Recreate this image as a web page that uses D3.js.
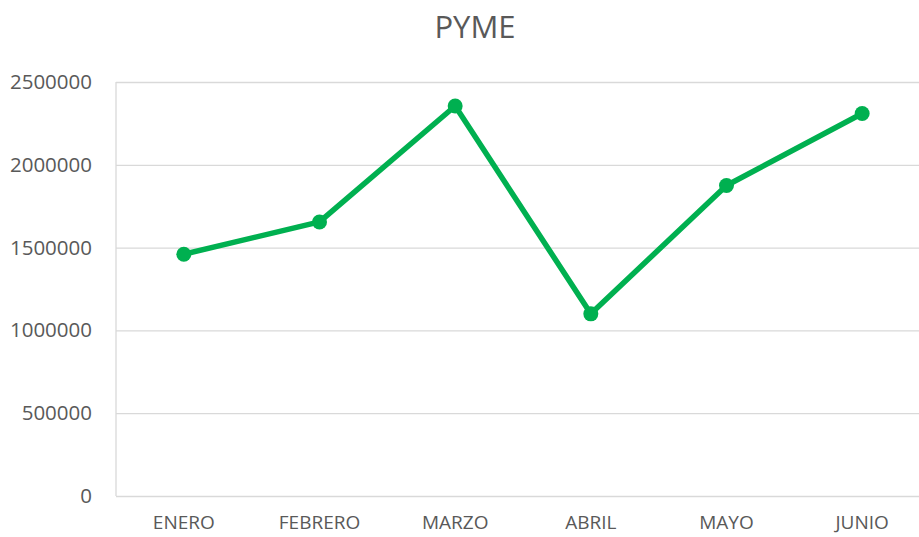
<!DOCTYPE html>
<html>
<head>
<meta charset="utf-8">
<script src="https://cdn.jsdelivr.net/npm/d3@7"></script>
<style>
  body { margin: 0; background: #fff; }
  svg { display: block; font-family: "Open Sans", sans-serif; }
</style>
</head>
<body>
<div id="chart"></div>
<script>
const title = "PYME";
const months = ["ENERO", "FEBRERO", "MARZO", "ABRIL", "MAYO", "JUNIO"];
const values = [1460000, 1655000, 2355000, 1100000, 1875000, 2310000];
const yTicks = [0, 500000, 1000000, 1500000, 2000000, 2500000];

const W = 919, H = 537;
const margin = { top: 82, right: -11, bottom: 41, left: 116 };
const green = "#00B050";
const textColor = "#595959";
const gridColor = "#d9d9d9";

const svg = d3.select("#chart").append("svg")
  .attr("width", W)
  .attr("height", H);

const x = d3.scaleBand()
  .domain(months)
  .range([margin.left, W - margin.right]);

const y = d3.scaleLinear()
  .domain([0, 2500000])
  .range([H - margin.bottom, margin.top]);

// title
svg.append("text")
  .attr("x", 475)
  .attr("y", 38)
  .attr("text-anchor", "middle")
  .style("font-size", "31px")
  .style("fill", textColor)
  .text(title);

// gridlines + y labels
const yAxis = svg.append("g")
  .attr("transform", `translate(${margin.left},0)`)
  .call(d3.axisLeft(y).tickValues(yTicks).tickSize(-(W - margin.left - margin.right)).tickFormat(d3.format("d")).tickPadding(24));
yAxis.select(".domain").remove();
yAxis.selectAll("line").attr("stroke", gridColor).attr("stroke-width", 1.3);
yAxis.selectAll("text")
  .style("font-size", "20.5px")
  .style("fill", textColor)
  .style("font-family", "Open Sans, sans-serif");

// left axis line
svg.append("line")
  .attr("x1", margin.left).attr("x2", margin.left)
  .attr("y1", y(2500000)).attr("y2", y(0))
  .attr("stroke", gridColor)
  .attr("stroke-width", 1.3);

// x labels
const xAxis = svg.append("g")
  .attr("transform", `translate(0,${y(0)})`)
  .call(d3.axisBottom(x).tickSize(0).tickPadding(20));
xAxis.select(".domain").remove();
xAxis.selectAll("text")
  .style("font-size", "19px")
  .style("fill", textColor)
  .style("font-family", "Open Sans, sans-serif");

const data = months.map((m, i) => ({ month: m, value: values[i] }));

const line = d3.line()
  .x(d => x(d.month) + x.bandwidth() / 2)
  .y(d => y(d.value));

svg.append("path")
  .datum(data)
  .attr("fill", "none")
  .attr("stroke", green)
  .attr("stroke-width", 5.5)
  .attr("stroke-linejoin", "round")
  .attr("d", line);

svg.selectAll("circle.pt")
  .data(data)
  .enter()
  .append("circle")
  .attr("class", "pt")
  .attr("cx", d => x(d.month) + x.bandwidth() / 2)
  .attr("cy", d => y(d.value))
  .attr("r", 7.5)
  .attr("fill", green);
</script>
</body>
</html>
